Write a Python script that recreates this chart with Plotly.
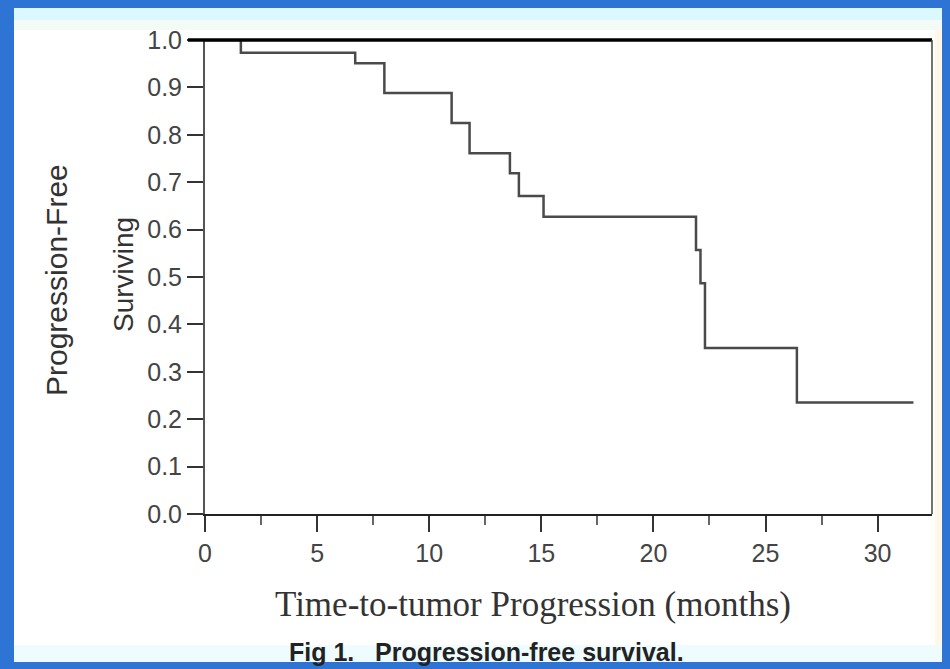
import plotly.graph_objects as go

# Kaplan-Meier style step data
months = [0, 1.6, 6.7, 8.0, 11.0, 11.8, 13.6, 14.0, 15.1, 21.9, 22.1, 22.3, 26.4, 31.6]
surviving = [1.0, 0.973, 0.951, 0.888, 0.825, 0.761, 0.719, 0.671, 0.627, 0.557, 0.487, 0.350, 0.235, 0.235]

x_ticks = [0, 5, 10, 15, 20, 25, 30]
y_ticks = [0.0, 0.1, 0.2, 0.3, 0.4, 0.5, 0.6, 0.7, 0.8, 0.9, 1.0]

W, H = 950, 669
L, R, T, B = 205, 18, 40, 155
pw, ph = W - L - R, H - T - B

def px(xp):
    return (xp - L) / pw

def py(yp):
    return (H - B - yp) / ph

fig = go.Figure()
fig.add_trace(go.Scatter(
    x=months, y=surviving, mode="lines",
    line=dict(color="#4a4a4a", width=2.5, shape="hv"),
    showlegend=False, hoverinfo="skip",
))

shapes = [
    dict(type="rect", xref="paper", yref="paper", x0=px(14), x1=px(942), y0=py(662), y1=py(8),
         fillcolor="white", line=dict(width=0), layer="below"),
    dict(type="rect", xref="paper", yref="paper", x0=px(14), x1=px(942), y0=py(20), y1=py(8),
         fillcolor="#dcf8ff", line=dict(width=0), layer="below"),
    dict(type="rect", xref="paper", yref="paper", x0=px(14), x1=px(942), y0=py(30), y1=py(20),
         fillcolor="#f4fbf6", line=dict(width=0), layer="below"),
    dict(type="rect", xref="paper", yref="paper", x0=px(14), x1=px(942), y0=py(662), y1=py(645),
         fillcolor="#eefcff", line=dict(width=0), layer="below"),
    dict(type="rect", xref="paper", yref="paper", x0=px(935), x1=px(942), y0=py(645), y1=py(30),
         fillcolor="#fff8e8", line=dict(width=0), layer="below"),
    dict(type="line", xref="paper", yref="paper", x0=px(188), x1=1.0, y0=1.0, y1=1.0,
         line=dict(color="black", width=3.5)),
    dict(type="line", xref="paper", yref="paper", x0=1.0, x1=1.0, y0=0, y1=1.0,
         line=dict(color="#444", width=1.5)),
]

annotations = [
    dict(text="Time-to-tumor Progression (months)", xref="paper", yref="paper",
         x=px(533), y=py(604), showarrow=False, xanchor="center", yanchor="middle",
         font=dict(family="Liberation Serif, Times New Roman, serif", size=35, color="#333")),
    dict(text="<b>Fig 1.   Progression-free survival.</b>", xref="paper", yref="paper",
         x=px(486), y=py(652), showarrow=False, xanchor="center", yanchor="middle",
         font=dict(family="Liberation Sans, Arial, sans-serif", size=25, color="#222")),
    dict(text="Progression-Free", xref="paper", yref="paper", textangle=-90,
         x=px(56), y=py(280), showarrow=False, xanchor="center", yanchor="middle",
         font=dict(family="Liberation Sans, Arial, sans-serif", size=30, color="#333")),
    dict(text="Surviving", xref="paper", yref="paper", textangle=-90,
         x=px(123), y=py(275), showarrow=False, xanchor="center", yanchor="middle",
         font=dict(family="Liberation Sans, Arial, sans-serif", size=28, color="#333")),
]

fig.update_layout(
    width=W, height=H,
    margin=dict(l=L, r=R, t=T, b=B, pad=0),
    paper_bgcolor="#2d74d4",
    plot_bgcolor="white",
    shapes=shapes,
    annotations=annotations,
    xaxis=dict(
        range=[0, (W - R - L) / 22.42], tickvals=x_ticks, ticktext=[str(v) for v in x_ticks],
        showgrid=False, zeroline=False, showline=True, linecolor="#222", linewidth=2,
        ticks="outside", ticklen=16, tickwidth=2, tickcolor="#333",
        minor=dict(tickvals=[2.5, 7.5, 12.5, 17.5, 22.5, 27.5], ticks="outside", ticklen=9,
                   tickwidth=2, tickcolor="#666", showgrid=False),
        tickfont=dict(family="Liberation Sans, Arial, sans-serif", size=25, color="#444"),
        fixedrange=True,
    ),
    yaxis=dict(
        range=[0, 1.0], tickvals=y_ticks, ticktext=[f"{v:.1f}" for v in y_ticks],
        showgrid=False, zeroline=False, showline=True, linecolor="#555", linewidth=2,
        ticks="outside", ticklen=16, tickwidth=2, tickcolor="#333",
        tickfont=dict(family="Liberation Sans, Arial, sans-serif", size=25, color="#444"),
        fixedrange=True,
    ),
)

fig.write_html("out.html")
